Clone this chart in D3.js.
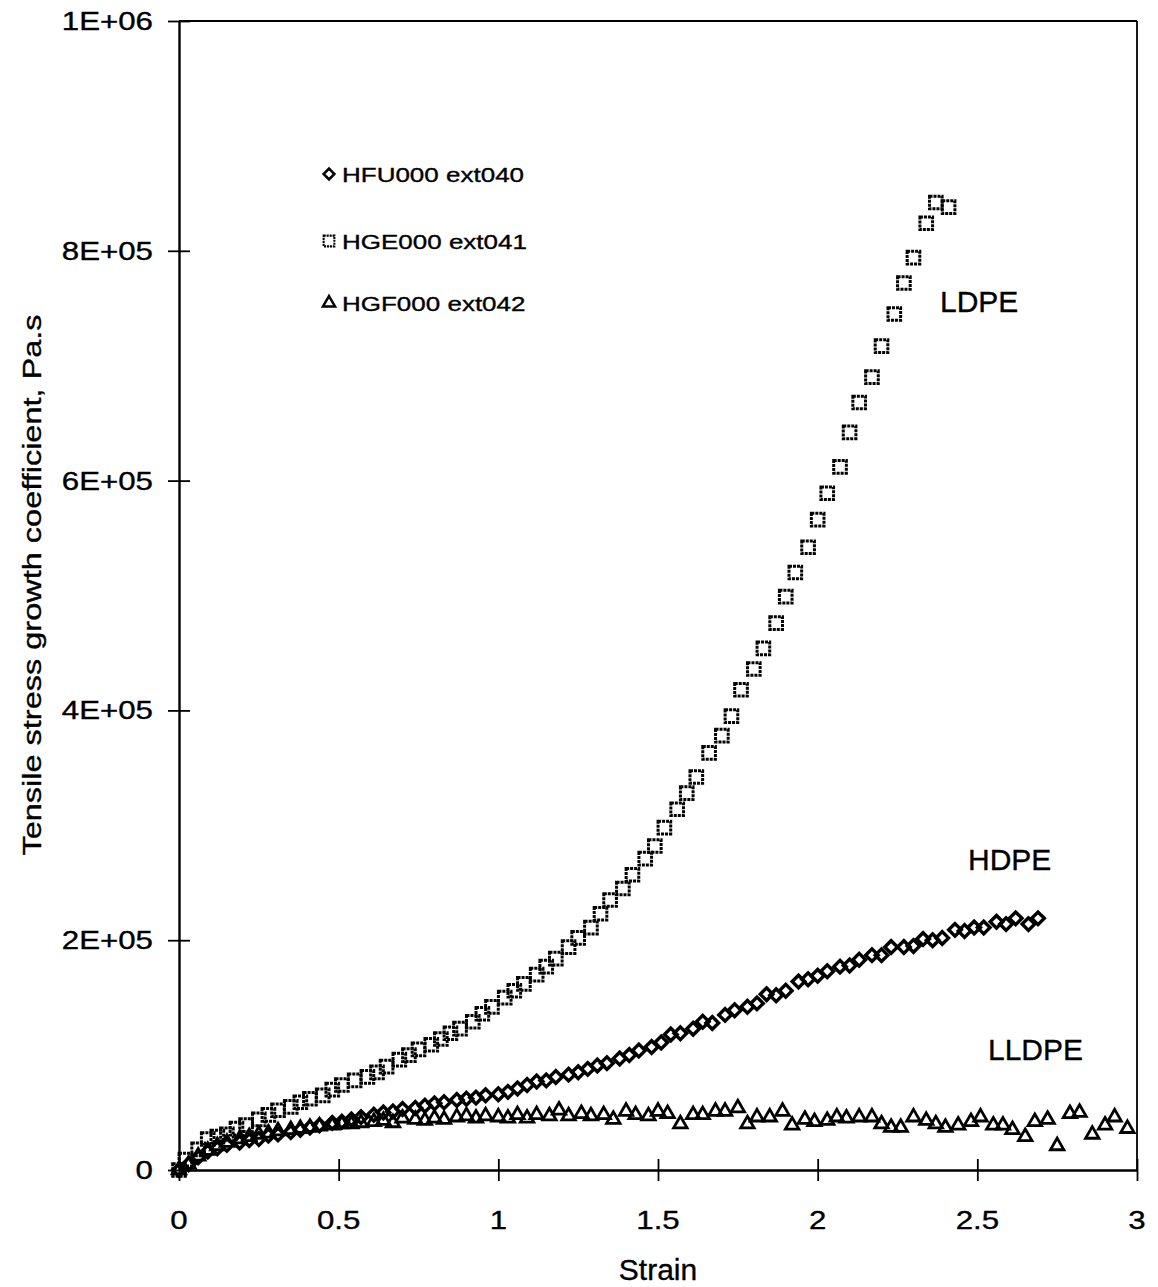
<!DOCTYPE html>
<html><head><meta charset="utf-8">
<script src="https://cdn.jsdelivr.net/npm/d3@7"></script>
<style>
body{margin:0;background:#fff}
text{font-family:"Liberation Sans",Arial,Helvetica,sans-serif;fill:#000;stroke:#000;stroke-width:0.35px}
</style>
</head><body>
<svg id="c" width="1158" height="1287"></svg>
<script>
// ---------- DATA (strain, tensile stress growth coefficient in kPa.s) ----------
const ldpeStrain = [0.00,0.02,0.06,0.09,0.12,0.15,0.18,0.21,0.25,0.28,0.31,0.35,0.38,0.41,0.45,0.48,0.51,0.55,0.59,0.62,0.65,0.69,0.72,0.75,0.79,0.82,0.85,0.88,0.92,0.95,0.98,1.02,1.05,1.08,1.12,1.15,1.18,1.22,1.25,1.29,1.32,1.35,1.39,1.42,1.46,1.49,1.52,1.56,1.59,1.62,1.66,1.70,1.73,1.76,1.80,1.83,1.87,1.90,1.93,1.97,2.00,2.03,2.07,2.10,2.13,2.17,2.20,2.24,2.27,2.30,2.34,2.37,2.41];
const ldpeValueK = [0,9,18,27,29,31,36,39,44,48,52,55,59,62,65,70,74,78,81,85,90,96,100,105,109,114,119,123,129,136,142,150,156,162,170,177,184,194,202,211,223,235,245,257,271,282,298,314,328,342,363,378,395,418,436,454,476,499,520,542,566,589,612,642,668,690,717,745,772,794,824,842,838];

const hdpeStrain = [0.00,0.03,0.06,0.09,0.12,0.15,0.19,0.22,0.25,0.28,0.31,0.35,0.38,0.41,0.44,0.48,0.51,0.54,0.57,0.61,0.64,0.67,0.70,0.74,0.77,0.80,0.83,0.87,0.90,0.93,0.96,1.00,1.03,1.06,1.09,1.12,1.15,1.18,1.22,1.25,1.28,1.31,1.34,1.38,1.41,1.44,1.48,1.51,1.54,1.57,1.61,1.64,1.67,1.71,1.74,1.78,1.81,1.84,1.87,1.90,1.94,1.97,2.00,2.03,2.07,2.10,2.13,2.17,2.20,2.23,2.27,2.30,2.33,2.36,2.39,2.43,2.46,2.49,2.52,2.56,2.59,2.62,2.66,2.69];
const hdpeValueK = [0,5,11,16,19,22,24,26,27,30,31,33,35,37,39,41,42,44,46,48,50,51,53,54,56,58,59,61,62,63,65,66,68,71,74,77,78,81,83,85,88,91,93,97,100,104,107,111,118,119,123,129,128,135,139,142,145,153,152,156,164,166,169,173,177,178,183,187,187,194,194,195,201,200,202,209,208,211,211,216,214,219,214,219];

const lldpeStrain = [0.00,0.03,0.06,0.09,0.12,0.15,0.19,0.22,0.25,0.28,0.31,0.35,0.38,0.41,0.44,0.48,0.51,0.54,0.57,0.61,0.64,0.67,0.70,0.74,0.77,0.80,0.83,0.87,0.90,0.93,0.96,1.00,1.03,1.06,1.09,1.12,1.16,1.19,1.22,1.26,1.29,1.33,1.36,1.40,1.43,1.47,1.50,1.53,1.57,1.61,1.64,1.68,1.71,1.75,1.78,1.81,1.85,1.89,1.92,1.96,1.99,2.03,2.06,2.09,2.13,2.17,2.20,2.23,2.26,2.30,2.34,2.37,2.40,2.44,2.48,2.51,2.55,2.58,2.61,2.65,2.68,2.72,2.75,2.79,2.82,2.86,2.90,2.93,2.97];
const lldpeValueK = [0,5,12,17,21,24,27,29,31,32,34,35,36,37,38,39,40,40,41,42,43,41,45,44,43,45,44,46,47,45,47,46,45,48,45,48,47,52,47,49,47,48,44,51,48,47,51,49,40,48,48,51,51,54,40,46,46,51,39,44,42,43,46,45,46,46,40,37,37,46,43,40,37,39,42,46,39,39,35,29,42,44,21,49,50,31,39,46,36];

const seriesNames = ["HFU000 ext040","HGE000 ext041","HGF000 ext042"];
const curveLabels = ["LDPE","HDPE","LLDPE"];
const xTickValues = [0,0.5,1,1.5,2,2.5,3];
const xTickLabels = ["0","0.5","1","1.5","2","2.5","3"];
const yTickValues = [0,200000,400000,600000,800000,1000000];
const yTickLabels = ["0","2E+05","4E+05","6E+05","8E+05","1E+06"];
const xTitle = "Strain";
const yTitle = "Tensile stress growth coefficient, Pa.s";

// ---------- CHART ----------
const svg = d3.select("#c");
const L = 179, R = 1137, T = 21, B = 1170;
const x = d3.scaleLinear().domain([0,3]).range([L,R]);
const y = d3.scaleLinear().domain([0,1000000]).range([B,T]);

svg.append("rect").attr("width",1158).attr("height",1287).attr("fill","#fff");

// frame
svg.append("line").attr("x1",L).attr("x2",R).attr("y1",T).attr("y2",T).attr("stroke","#000").attr("stroke-width",1.8);
svg.append("line").attr("x1",R).attr("x2",R).attr("y1",T).attr("y2",B).attr("stroke","#000").attr("stroke-width",1.8);

// axes (ticks crossing the axis line)
const gx = svg.append("g").attr("transform",`translate(0,${B})`)
  .call(d3.axisBottom(x).tickValues(xTickValues).tickFormat("").tickSize(11).tickSizeOuter(0));
gx.selectAll(".tick line").attr("y1",-11).attr("y2",11).attr("stroke-width",1.8);
gx.select(".domain").attr("stroke-width",2.4);

const gy = svg.append("g").attr("transform",`translate(${L},0)`)
  .call(d3.axisLeft(y).tickValues(yTickValues).tickFormat("").tickSize(11).tickSizeOuter(0));
gy.selectAll(".tick line").attr("x1",-11).attr("x2",11).attr("stroke-width",1.8);
gy.select(".domain").attr("stroke-width",2.4);

// tick labels (slightly wide font as in original)
xTickValues.forEach((v,i)=>{
  svg.append("text").attr("transform",`translate(${x(v)},${1229}) scale(1.25,1)`)
    .attr("text-anchor","middle").attr("font-size",25).text(xTickLabels[i]);
});
yTickValues.forEach((v,i)=>{
  svg.append("text").attr("transform",`translate(153,${y(v)+9}) scale(1.25,1)`)
    .attr("text-anchor","end").attr("font-size",25).text(yTickLabels[i]);
});

// axis titles
svg.append("text").attr("x",(L+R)/2).attr("y",1280).attr("text-anchor","middle")
  .attr("font-size",30).text(xTitle);
svg.append("text").attr("transform",`translate(41,${585}) rotate(-90) scale(1.25,1)`)
  .attr("text-anchor","middle").attr("font-size",26).text(yTitle);

// markers
const diamond = d3.symbol().type(d3.symbolSquare).size(80)();
const square = d3.symbol().type(d3.symbolSquare).size(160)();
const triangle = d3.symbol().type(d3.symbolTriangle).size(78)();

const plot = svg.append("g");
function drawSeries(xs, vs, path, rot, sw, dash){
  plot.append("g").selectAll("path").data(xs.map((s,i)=>[s,vs[i]*1000])).join("path")
    .attr("d",path)
    .attr("transform",d=>`translate(${x(d[0])},${y(d[1])}) rotate(${rot})`)
    .attr("fill","none").attr("stroke","#000").attr("stroke-width",sw)
    .attr("stroke-dasharray",dash||null);
}
drawSeries(ldpeStrain, ldpeValueK, square, 0, 3, "3 1");
drawSeries(hdpeStrain, hdpeValueK, diamond, 45, 3.4, null);
drawSeries(lldpeStrain, lldpeValueK, triangle, 0, 2.8, null);

// legend
const legY = [174, 241, 303];
const legSym = [[diamond,45,3,null,0.85],[square,0,2.4,"2.5 1",0.85],[triangle,0,2.8,null,0.9]];
seriesNames.forEach((n,i)=>{
  const s = legSym[i];
  svg.append("path").attr("d",s[0])
    .attr("transform",`translate(329,${legY[i]}) rotate(${s[1]}) scale(${s[4]})`)
    .attr("fill","none").attr("stroke","#000").attr("stroke-width",s[2]).attr("stroke-dasharray",s[3]);
  svg.append("text").attr("transform",`translate(342,${legY[i]+8}) scale(1.3,1)`)
    .attr("font-size",20).text(n);
});

// curve labels
const labelPos = [[940,312],[968,870],[988,1060]];
curveLabels.forEach((t,i)=>{
  svg.append("text").attr("x",labelPos[i][0]).attr("y",labelPos[i][1])
    .attr("font-size",30).text(t);
});
</script>
</body></html>
